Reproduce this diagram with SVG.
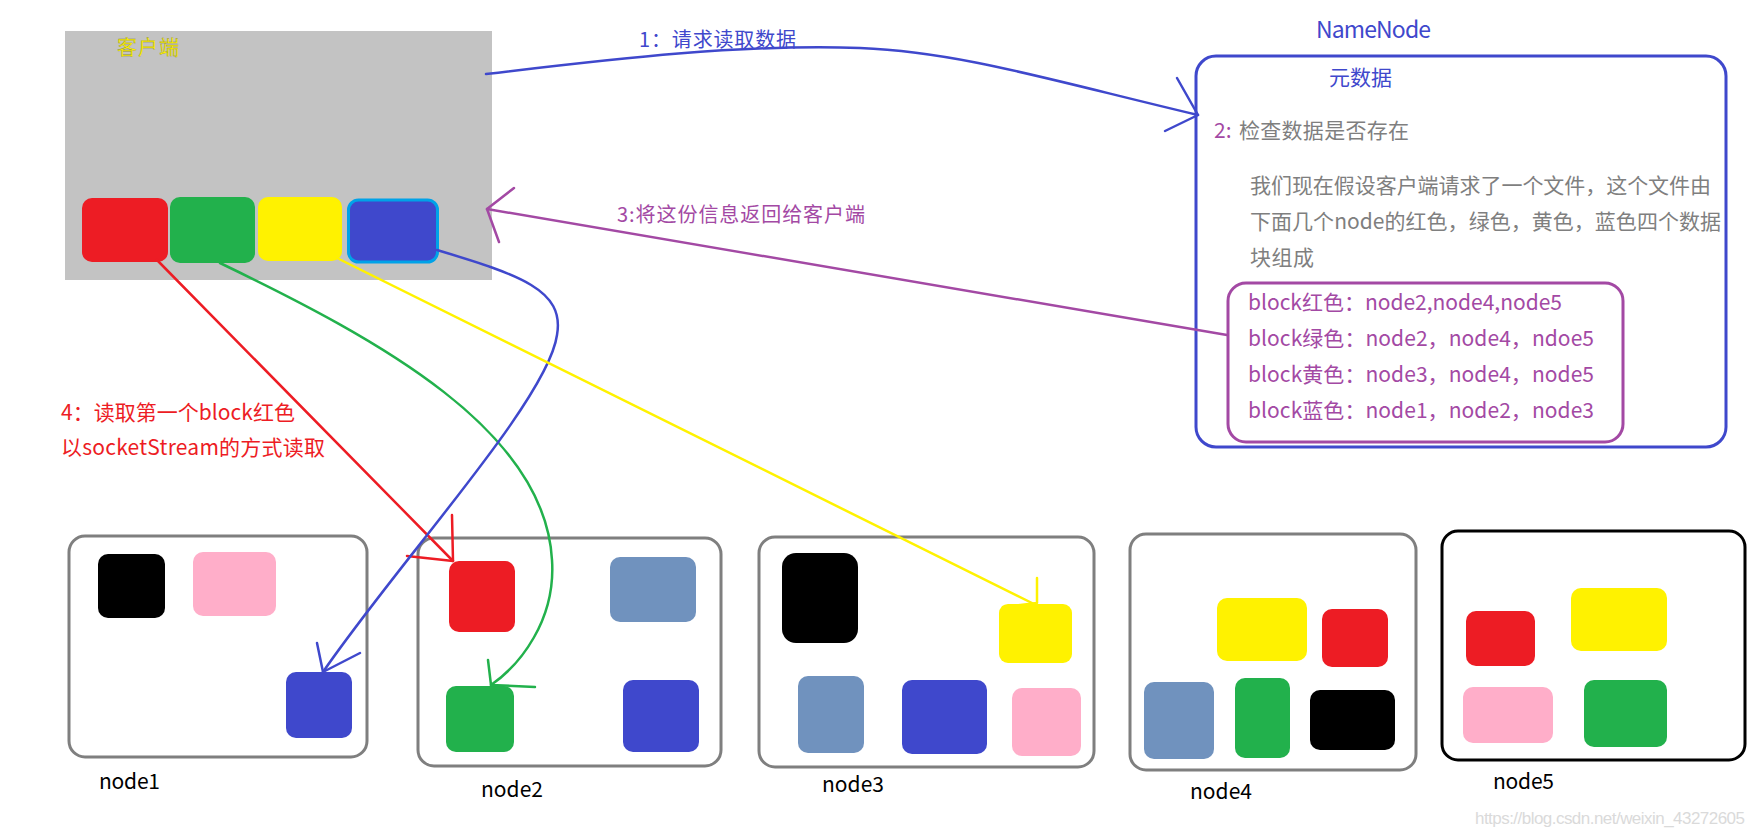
<svg xmlns="http://www.w3.org/2000/svg" width="1755" height="838" viewBox="0 0 1755 838">
<style>
text{font-family:"Noto Sans CJK SC","Microsoft YaHei","Liberation Sans",sans-serif;}
.t21{font-size:21px;}
.blue{fill:#3f48cc;}
.purple{fill:#a349a4;}
.grayt{fill:#7f7f7f;}
.red{fill:#ed1c24;}
.lbl{font-size:21px;fill:#000;}
.nbox{fill:#fff;stroke:#7f7f7f;stroke-width:3;}
.conn{fill:none;stroke-width:2.5;stroke-linecap:round;stroke-linejoin:round;}
.cR{fill:#ed1c24;} .cG{fill:#22b14c;} .cY{fill:#fff200;} .cB{fill:#3f48cc;}
.cP{fill:#ffaec9;} .cS{fill:#7092be;} .cK{fill:#000;}
</style>
<rect width="1755" height="838" fill="#fff"/>

<g id="client">
<rect x="65" y="31" width="427" height="249" fill="#c3c3c3"/>
<text x="117" y="55" font-size="20" fill="#fff200" stroke="#8a8a40" stroke-width="0.3" textLength="62">客户端</text>
<rect class="cR" x="82" y="198" width="86" height="64" rx="10"/>
<rect class="cG" x="170" y="197" width="85" height="66" rx="10"/>
<rect class="cY" x="258" y="197" width="84" height="64" rx="10"/>
<rect class="cB" x="348.5" y="200" width="89" height="62" rx="10" stroke="#00a2e8" stroke-width="3"/>
</g>

<g id="namenode">
<text x="1316" y="38" font-size="23" class="blue" textLength="115">NameNode</text>
<rect x="1196" y="56" width="530" height="391" rx="20" fill="none" stroke="#3f48cc" stroke-width="3"/>
<text x="1329" y="85" class="t21 blue" textLength="63">元数据</text>
<text x="1214" y="138" class="t21 purple">2:</text>
<text x="1239" y="138" class="t21 grayt" textLength="170">检查数据是否存在</text>
<text x="1250" y="193" class="t21 grayt" textLength="461">我们现在假设客户端请求了一个文件，这个文件由</text>
<text x="1250" y="229" class="t21 grayt" textLength="471">下面几个node的红色，绿色，黄色，蓝色四个数据</text>
<text x="1250" y="265" class="t21 grayt" textLength="64">块组成</text>
<rect x="1228" y="283" width="395" height="159" rx="18" fill="none" stroke="#a349a4" stroke-width="3"/>
<text x="1248" y="310" class="t21 purple" textLength="314">block红色：node2,node4,node5</text>
<text x="1248" y="346" class="t21 purple" textLength="346">block绿色：node2，node4，ndoe5</text>
<text x="1248" y="382" class="t21 purple" textLength="346">block黄色：node3，node4，node5</text>
<text x="1248" y="418" class="t21 purple" textLength="346">block蓝色：node1，node2，node3</text>
</g>

<g id="node1">
<rect class="nbox" x="69" y="536" width="298" height="221" rx="16"/>
<rect class="cK" x="98" y="554" width="67" height="64" rx="10"/>
<rect class="cP" x="193" y="552" width="83" height="64" rx="10"/>
<rect class="cB" x="286" y="672" width="66" height="66" rx="10"/>
<text x="99" y="789" class="lbl" textLength="61">node1</text>
</g>

<g id="node2">
<rect class="nbox" x="418" y="538" width="303" height="228" rx="16"/>
<rect class="cR" x="449" y="561" width="66" height="71" rx="10"/>
<rect class="cS" x="610" y="557" width="86" height="65" rx="10"/>
<rect class="cG" x="446" y="686" width="68" height="66" rx="10"/>
<rect class="cB" x="623" y="680" width="76" height="72" rx="10"/>
<text x="481" y="797" class="lbl" textLength="62">node2</text>
</g>

<g id="node3">
<rect class="nbox" x="759" y="537" width="335" height="230" rx="16"/>
<rect class="cK" x="782" y="553" width="76" height="90" rx="14"/>
<rect class="cY" x="999" y="604" width="73" height="59" rx="9"/>
<rect class="cS" x="798" y="676" width="66" height="77" rx="10"/>
<rect class="cB" x="902" y="680" width="85" height="74" rx="10"/>
<rect class="cP" x="1012" y="688" width="69" height="68" rx="10"/>
<text x="822" y="792" class="lbl" textLength="62">node3</text>
</g>

<g id="node4">
<rect class="nbox" x="1130" y="534" width="286" height="236" rx="16"/>
<rect class="cY" x="1217" y="598" width="90" height="63" rx="10"/>
<rect class="cR" x="1322" y="609" width="66" height="58" rx="10"/>
<rect class="cS" x="1144" y="682" width="70" height="77" rx="10"/>
<rect class="cG" x="1235" y="678" width="55" height="80" rx="10"/>
<rect class="cK" x="1310" y="690" width="85" height="60" rx="10"/>
<text x="1190" y="799" class="lbl" textLength="62">node4</text>
</g>

<g id="node5">
<rect x="1442" y="531" width="303" height="229" rx="16" fill="#fff" stroke="#000" stroke-width="3"/>
<rect class="cR" x="1466" y="611" width="69" height="55" rx="10"/>
<rect class="cY" x="1571" y="588" width="96" height="63" rx="10"/>
<rect class="cP" x="1463" y="687" width="90" height="56" rx="10"/>
<rect class="cG" x="1584" y="680" width="83" height="67" rx="10"/>
<text x="1493" y="789" class="lbl" textLength="61">node5</text>
</g>

<g id="labels">
<text x="639" y="47" font-size="20" class="blue" textLength="157">1：请求读取数据</text>
<text x="617" y="222" font-size="20" class="purple" textLength="248">3:将这份信息返回给客户端</text>
<text x="61" y="420" class="t21 red" textLength="234">4：读取第一个block红色</text>
<text x="61" y="455" class="t21 red" textLength="264">以socketStream的方式读取</text>
</g>

<g id="connectors">
<path class="conn" stroke="#3f48cc" stroke-width="3" d="M486,74 C620,58 740,44 860,48 C960,52 1050,80 1198,115"/>
<path class="conn" stroke="#3f48cc" stroke-width="3" d="M1177,78 L1198,115 L1165,131"/>
<path class="conn" stroke="#a349a4" stroke-width="3" d="M1227,335 L487,209"/>
<path class="conn" stroke="#a349a4" stroke-width="3" d="M514,188 L487,209 L499,242"/>
<path class="conn" stroke="#ed1c24" d="M157,260 L453,561"/>
<path class="conn" stroke="#ed1c24" d="M452,515 L453,561 L407,556"/>
<path class="conn" stroke="#22b14c" d="M220,263 C380,340 545,430 552,560 C556,620 520,665 491,685"/>
<path class="conn" stroke="#22b14c" d="M488,660 L491,685 L535,687"/>
<path class="conn" stroke="#3f48cc" d="M437,250 C520,275 565,290 557,335 C548,400 400,560 323,672"/>
<path class="conn" stroke="#3f48cc" d="M317,643 L323,672 L360,653"/>
<path class="conn" stroke="#fff200" d="M337,258 L1034,604"/>
<path class="conn" stroke="#fff200" d="M1037,578 L1037,603 L1003,607"/>
</g>

<text x="1475" y="824" font-size="17" fill="#dadada" textLength="270" style="font-family:'Liberation Sans',sans-serif">https://blog.csdn.net/weixin_43272605</text>
</svg>
